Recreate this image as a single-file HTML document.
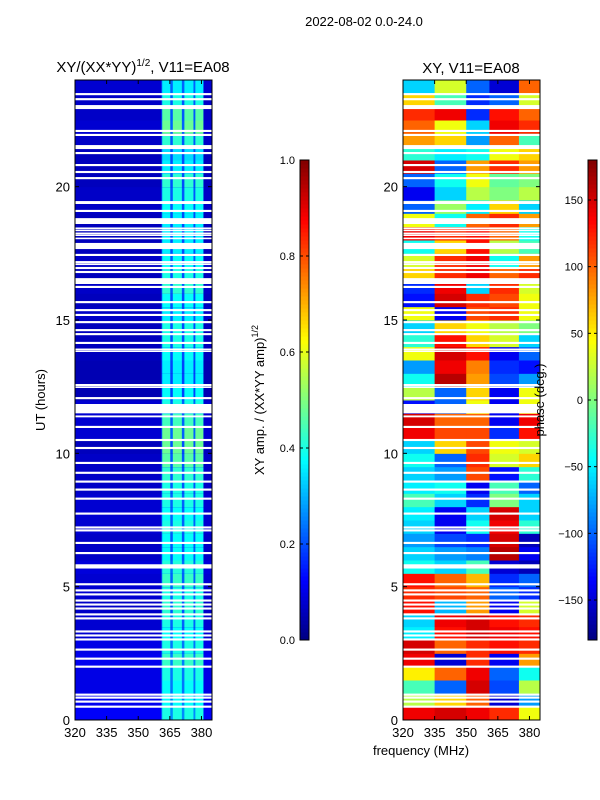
<!DOCTYPE html>
<html><head><meta charset="utf-8">
<style>
body{margin:0;background:#fff;}
svg{display:block;font-family:"Liberation Sans","DejaVu Sans",sans-serif;}
</style></head>
<body>
<svg id="fig" width="600" height="800" viewBox="0 0 600 800">
<text x="364" y="26" font-size="13" text-anchor="middle">2022-08-02 0.0-24.0</text>
<text x="143" y="72" font-size="15" text-anchor="middle">XY/(XX*YY)<tspan dy="-6" font-size="10">1/2</tspan><tspan dy="6">, V11=EA08</tspan></text>
<text x="471" y="73" font-size="15" text-anchor="middle">XY, V11=EA08</text>
<g id="left"></g>
<g id="right"></g>
<g id="cb1"></g>
<g id="cb2"></g>
<text transform="translate(45,400) rotate(-90)" font-size="13" text-anchor="middle">UT (hours)</text>
<text x="421" y="755" font-size="13" text-anchor="middle">frequency (MHz)</text>
<text transform="translate(264,400) rotate(-90)" font-size="13" text-anchor="middle">XY amp. / (XX*YY amp)<tspan dy="-6" font-size="9">1/2</tspan></text>
<text transform="translate(544,400) rotate(-90)" font-size="13" text-anchor="middle">phase (deg.)</text>
</svg>
<script>
// ---- data ----
const hourTicks = [0,5,10,15,20];
const freqTicks = [320,335,350,365,380];
const ampTicks = [0.0,0.2,0.4,0.6,0.8,1.0];
const phaseTicks = [-150,-100,-50,0,50,100,150];
// amplitude: per half-hour row, from 0h upward
const ampBackground = [0.12,0.11,0.1,0.1,0.11,0.1,0.08,0.08,0.07,0.08,0.08,0.09,0.07,0.07,0.08,0.08,0.08,0.07,0.07,0.07,0.06,0.08,0.08,0.08,0.05,0.05,0.05,0.06,0.06,0.06,0.07,0.06,0.07,0.06,0.07,0.06,0.06,0.06,0.07,0.07,0.06,0.06,0.06,0.07,0.08,0.07,0.07,0.08];
const ampStripe = [0.4,0.38,0.38,0.4,0.43,0.4,0.38,0.4,0.42,0.4,0.43,0.41,0.38,0.38,0.4,0.38,0.4,0.4,0.42,0.46,0.48,0.48,0.44,0.4,0.38,0.36,0.36,0.38,0.4,0.4,0.36,0.38,0.42,0.4,0.38,0.36,0.36,0.36,0.38,0.4,0.42,0.36,0.34,0.42,0.48,0.46,0.4,0.36];
const stripeBands = [[361.4,365.2],[366.4,370.7],[371.9,376.2],[377.1,380.9]];
// phase: bands and per half-hour rows (0h upward)
const phaseBands = [[320,335],[335,350],[350,361],[361,375],[375,385]];
const phaseRows = [
[140,150,140,120,40],[20,60,100,-150,-80],[-20,-100,150,-110,20],[50,100,140,-100,-40],
[140,-150,120,-140,80],[150,100,120,130,120],[-50,130,150,140,130],[-60,140,150,130,120],
[130,-70,80,-140,30],[120,110,100,-100,-120],[130,100,70,-120,-100],[-40,-60,-20,-150,-160],
[-60,-80,-90,160,-140],[-80,-110,-120,150,-160],[-60,-140,-40,140,-30],[-50,-140,-60,150,-60],
[-20,-60,-120,0,-60],[-50,-40,-140,-20,-100],[-60,-80,110,-130,-30],[-40,-100,120,30,60],
[-60,60,110,40,30],[140,110,110,-120,130],[150,100,100,-140,140],[-130,-100,40,-140,40],
[20,-100,60,-140,40],[-40,160,80,-110,-80],[-80,140,90,-120,-130],[40,150,130,-140,-100],
[-30,130,60,30,-60],[-60,60,40,20,0],[40,-140,110,120,40],[-130,150,120,110,40],
[-120,140,-60,120,30],[60,120,140,100,120],[30,120,140,-40,80],[-40,60,130,20,-20],
[140,120,130,100,-40],[40,-40,100,120,80],[-100,10,-50,60,-60],[-140,-60,20,0,20],
[-100,-40,40,-10,0],[150,-100,80,120,80],[-30,-50,-40,40,60],[80,60,-80,100,-20],
[100,40,-60,140,120],[120,140,-120,130,100],[60,-20,-120,-100,30],[-60,30,-100,-150,100]];
// flagged (blank) time ranges in hours
const flags = [[23.43,23.51],[23.24,23.32],[22.98,23.06],[22.91,22.99],[22.05,22.13],[21.9,21.98],[21.41,21.56],[21.22,21.3],[20.77,20.85],[20.51,20.59],[20.28,20.36],[19.35,19.46],[19.05,19.13],[18.6,18.82],[18.41,18.47],[18.33,18.39],[18.22,18.28],[18.15,18.21],[18.03,18.09],[17.66,17.89],[17.4,17.48],[17.13,17.21],[17.06,17.12],[16.91,16.99],[16.76,16.84],[16.35,16.57],[16.2,16.28],[15.63,15.71],[15.33,15.41],[15.15,15.23],[14.88,14.96],[14.58,14.66],[14.43,14.51],[14.1,14.18],[13.87,13.93],[13.8,13.86],[12.52,12.6],[12.45,12.51],[12.03,12.11],[11.5,11.85],[11.35,11.42],[10.95,11.03],[10.46,10.54],[10.16,10.24],[9.6,9.68],[9.23,9.31],[8.9,8.98],[8.6,8.68],[8.26,8.34],[7.7,7.78],[7.18,7.26],[7.07,7.15],[6.6,6.68],[6.22,6.3],[5.68,5.84],[5.05,5.13],[4.82,4.9],[4.67,4.75],[4.44,4.52],[4.29,4.37],[4.14,4.22],[3.92,4.0],[3.77,3.85],[3.28,3.36],[3.13,3.21],[2.98,3.06],[2.6,2.68],[2.26,2.34],[1.96,2.04],[0.91,0.99],[0.8,0.88],[0.65,0.73],[0.46,0.54]];

// ---- helpers ----
const NS = "http://www.w3.org/2000/svg";
function jet(x){x=Math.max(0,Math.min(1,x));const c=v=>Math.round(255*Math.max(0,Math.min(1,v)));
 return `rgb(${c(1.5-Math.abs(4*x-3))},${c(1.5-Math.abs(4*x-2))},${c(1.5-Math.abs(4*x-1))})`;}
function mk(tag,attrs,parent){const e=document.createElementNS(NS,tag);for(const k in attrs)e.setAttribute(k,attrs[k]);parent.appendChild(e);return e;}
const yTop=80,yBot=720,W=137;
const yH=h=>yBot-(h/24)*(yBot-yTop);
function xF(x0,f){return x0+(f-320)*W/65;}

function drawPanel(g,x0,cellFn){
  for(let r=0;r<48;r++){
    const h0=r*0.5,h1=h0+0.5;
    cellFn(r,x0,yH(h1),yH(h0)-yH(h1));
  }
  flags.forEach(fl=>{
    const rc=mk('rect',{x:x0,y:yH(fl[1]),width:W,height:yH(fl[0])-yH(fl[1]),fill:'#fff'},g);
    
    
  });
  const fr=mk('rect',{x:x0,y:yTop,width:W,height:yBot-yTop,fill:'none',stroke:'#000','stroke-width':1},g);
  
  
  freqTicks.forEach(f=>{
    const x=xF(x0,f);
    mk('line',{x1:x,x2:x,y1:yBot,y2:yBot-4,stroke:'#000'},g);
    mk('line',{x1:x,x2:x,y1:yTop,y2:yTop+4,stroke:'#000'},g);
    const t=mk('text',{x:x,y:yBot+17,'font-size':13,'text-anchor':'middle'},g);
    t.textContent=f;
    
    
  });
  hourTicks.forEach(h=>{
    const y=yH(h);
    mk('line',{x1:x0,x2:x0+4,y1:y,y2:y,stroke:'#000'},g);
    mk('line',{x1:x0+W,x2:x0+W-4,y1:y,y2:y,stroke:'#000'},g);
    const t=mk('text',{x:x0-5,y:y+5,'font-size':13,'text-anchor':'end'},g);
    t.textContent=h;
    
    
  });
}
// left amplitude panel
const gl=document.getElementById('left');
drawPanel(gl,75,(r,x0,y,h)=>{
  const bg=mk('rect',{x:x0,y:y,width:W,height:h+0.5,fill:jet(ampBackground[r])},gl);
  
  
  const gap=mk('rect',{x:xF(x0,361),y:y,width:xF(x0,381)-xF(x0,361),height:h+0.5,fill:jet(ampBackground[r]+0.14)},gl);
  
  
  stripeBands.forEach(b=>{
    const c=mk('rect',{x:xF(x0,b[0]),y:y,width:xF(x0,b[1])-xF(x0,b[0]),height:h+0.5,fill:jet(ampStripe[r])},gl);
    
    
  });
});
// right phase panel
const gr=document.getElementById('right');
drawPanel(gr,403,(r,x0,y,h)=>{
  phaseBands.forEach((b,i)=>{
    const c=mk('rect',{x:xF(x0,b[0]),y:y,width:xF(x0,b[1])-xF(x0,b[0])+0.5,height:h+0.5,fill:jet((phaseRows[r][i]+180)/360)},gr);
    
    
  });
});
// colorbars
function colorbar(g,x,vals,vmin,vmax,fmt){
  const top=160,bot=640,n=120;
  for(let i=0;i<n;i++){
    mk('rect',{x:x,y:bot-(i+1)*(bot-top)/n,width:9,height:(bot-top)/n+0.5,fill:jet((i+0.5)/n)},g);
  }
  mk('rect',{x:x,y:top,width:9,height:bot-top,fill:'none',stroke:'#000'},g);
  vals.forEach(v=>{
    const y=bot-(v-vmin)/(vmax-vmin)*(bot-top);
    mk('line',{x1:x,x2:x+3,y1:y,y2:y,stroke:'#000'},g);
    mk('line',{x1:x+9,x2:x+6,y1:y,y2:y,stroke:'#000'},g);
    const t=mk('text',{x:x-5,y:y+4,'font-size':11,'text-anchor':'end'},g);
    t.textContent=fmt(v);
    
    
  });
}
colorbar(document.getElementById('cb1'),300,ampTicks,0,1,v=>v.toFixed(1));
colorbar(document.getElementById('cb2'),588,phaseTicks,-180,180,v=>v<0?'\u2212'+(-v):String(v));
</script>
</body></html>
